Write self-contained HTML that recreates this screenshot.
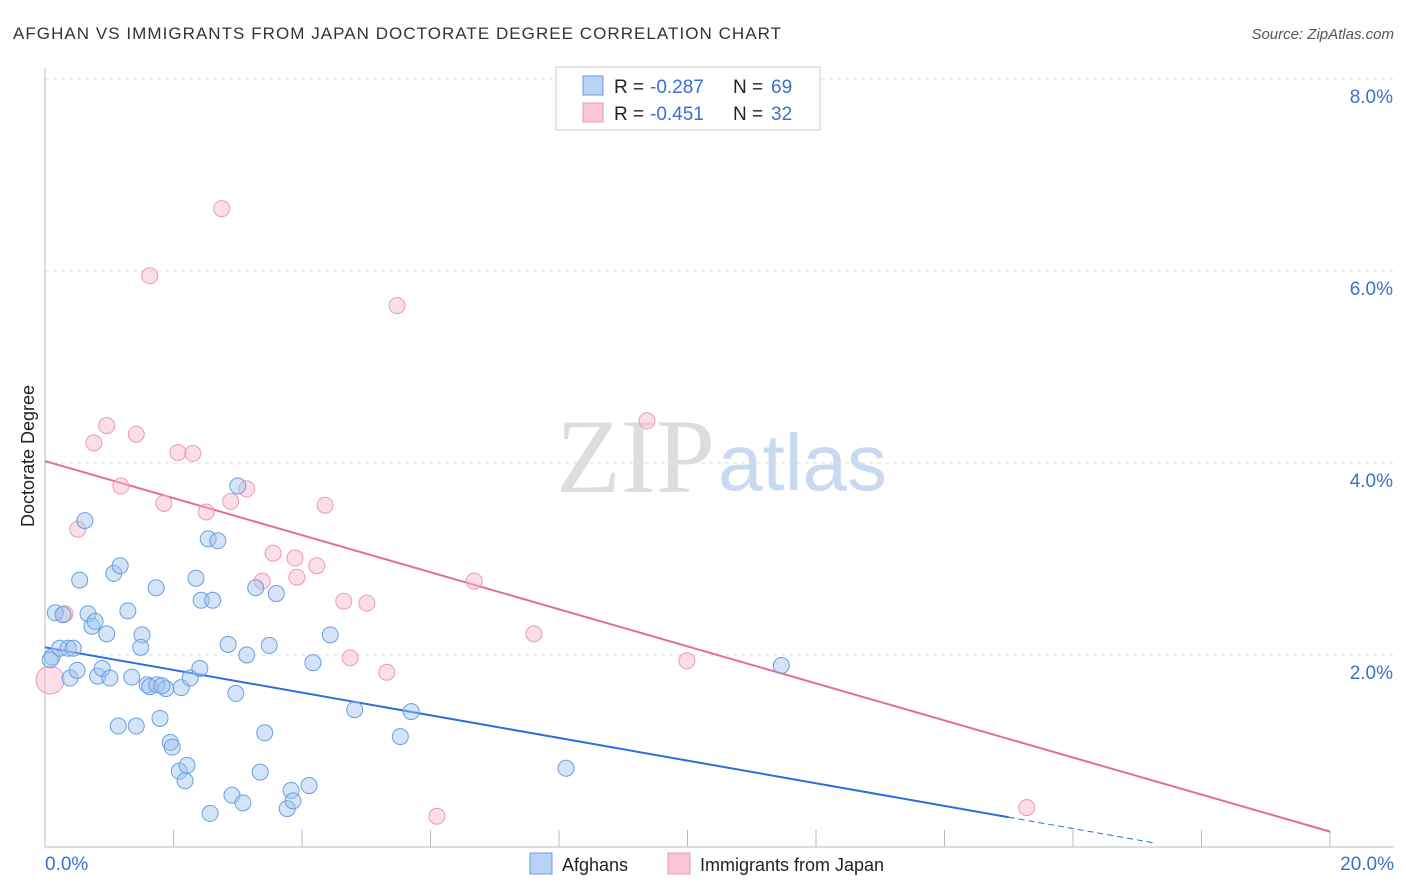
<!DOCTYPE html>
<html><head><meta charset="utf-8"><style>
body{margin:0;background:#fff;font-family:"Liberation Sans",sans-serif}
svg{display:block}
</style></head><body>
<svg id="chart" width="1406" height="892">
<text x="13" y="39" font-size="17" fill="#333" textLength="768" lengthAdjust="spacing">AFGHAN VS IMMIGRANTS FROM JAPAN DOCTORATE DEGREE CORRELATION CHART</text>
<text x="1394" y="39" font-size="15" fill="#555" font-style="italic" text-anchor="end">Source: ZipAtlas.com</text>
<text x="715" y="492" font-size="106" fill="#ddd" text-anchor="end" font-family="Liberation Serif">ZIP</text>
<text x="718" y="490" font-size="80" fill="#c9d9ef">atlas</text>
<text transform="translate(34,456) rotate(-90)" font-size="18" fill="#222" text-anchor="middle">Doctorate Degree</text>
<g id="grid"></g><g id="lines"></g><g id="pts"></g>
<g>
<rect x="556" y="67" width="264" height="63" fill="#fff" stroke="#ccc"/>
<rect x="583" y="76" width="20" height="19" fill="#b8d3f5" stroke="#6a9ee0"/>
<rect x="583" y="103" width="20" height="19" fill="#f9c6d6" stroke="#e899b2"/>
<text x="614" y="93" font-size="19" fill="#222">R =</text>
<text x="650" y="93" font-size="19" fill="#3a70d0">-0.287</text>
<text x="733" y="93" font-size="19" fill="#222">N =</text>
<text x="771" y="93" font-size="19" fill="#3a70d0">69</text>
<text x="614" y="120" font-size="19" fill="#222">R =</text>
<text x="650" y="120" font-size="19" fill="#3a70d0">-0.451</text>
<text x="733" y="120" font-size="19" fill="#222">N =</text>
<text x="771" y="120" font-size="19" fill="#3a70d0">32</text>
</g>
<g>
<rect x="530" y="853" width="22" height="21" fill="#b8d3f5" stroke="#6a9ee0"/>
<text x="562" y="871" font-size="18" fill="#222">Afghans</text>
<rect x="668" y="853" width="22" height="21" fill="#f9c6d6" stroke="#e899b2"/>
<text x="700" y="871" font-size="18" fill="#222">Immigrants from Japan</text>
</g>
</svg>
<script>
const yTicks=[2,4,6,8];
const xTickLabels=["0.0%","20.0%"];
const blueX=[55,52,60,68,73,70,77,80,85,88,92,95,98,102,107,110,114,120,118,128,132,136,142,141,147,150,156,157,160,166,170,172,179,181,185,187,190,196,200,201,208,213,210,218,228,232,236,238,243,247,256,260,265,269,276,287,291,293,309,313,330,355,400,411,566,781,50,63,162].map(p=>+((p-45)/64.25).toFixed(2));
const blueY=[613,657,648,648,648,678,670,580,521,614,626,621,676,668,634,678,573,566,726,611,677,726,635,647,685,687,588,685,718,689,742,747,771,688,781,765,678,578,668,600,539,600,813,541,644,795,693,486,803,655,588,772,733,645,594,809,790,801,786,663,635,710,737,712,768,666,660,615,686].map(p=>+((847-p)/96).toFixed(2));
const pinkX=[50,65,78,94,107,121,136,150,164,178,193,206,222,231,247,262,273,295,297,317,325,344,350,367,387,397,437,474,534,647,687,1027].map(p=>+((p-45)/64.25).toFixed(2));
const pinkY=[680,614,529,443,426,486,434,276,503,452,453,512,209,501,489,581,553,558,577,566,505,601,658,603,672,306,816,581,634,421,661,808].map(p=>+((847-p)/96).toFixed(2));
const blueTrend=[2.08,0.31];
const pinkTrend=[4.02,0.16];
const X=v=>45+v*64.25, Y=v=>847-v*96;
const NS="http://www.w3.org/2000/svg";
function mk(t,a,p){const e=document.createElementNS(NS,t);for(const k in a)e.setAttribute(k,a[k]);p.appendChild(e);return e;}
const g=document.getElementById('grid');
yTicks.forEach(t=>{
 const l=mk('line',{x1:45,x2:1394,y1:Y(t),y2:Y(t),stroke:'#ddd','stroke-dasharray':'4,4'},g);
 
 
 const tx=mk('text',{x:1393,y:Y(t)+24,'font-size':19,fill:'#3a70d0','text-anchor':'end'},g);
 tx.textContent=t.toFixed(1)+'%';
 
 
});
const ax=mk('line',{x1:45,x2:45,y1:68,y2:847,stroke:'#bbb'},g);


const bx=mk('line',{x1:45,x2:1394,y1:847,y2:847,stroke:'#bbb'},g);


for(let i=0;i<=10;i++){const t=mk('line',{x1:X(i*2),x2:X(i*2),y1:830,y2:847,stroke:'#bbb'},g);
 
 }
[[0,'start',45],[20,'end',1394]].forEach((d,i)=>{const t=mk('text',{x:d[2],y:870,'font-size':19,fill:'#3a70d0','text-anchor':d[1]},g);t.textContent=xTickLabels[i];
 
 });
const ln=document.getElementById('lines');
const slopeB=(blueTrend[1]-blueTrend[0])/15;
let l1=mk('line',{x1:X(0),y1:Y(blueTrend[0]),x2:X(15),y2:Y(blueTrend[1]),stroke:'#2a6fdb','stroke-width':2},ln);


let l2=mk('line',{x1:X(15),y1:Y(blueTrend[1]),x2:X(17.3),y2:Y(blueTrend[0]+slopeB*17.3),stroke:'#2a6fdb','stroke-width':1,'stroke-dasharray':'6,4'},ln);


let l3=mk('line',{x1:X(0),y1:Y(pinkTrend[0]),x2:X(20),y2:Y(pinkTrend[1]),stroke:'#e46d96','stroke-width':2},ln);


const pg=document.getElementById('pts');
pinkX.forEach((x,i)=>{const c=mk('circle',{cx:X(x),cy:Y(pinkY[i]),r:i==0?14:8,fill:'rgba(246,182,202,0.45)',stroke:'#ec9ab6','stroke-width':1},pg);
 
 });
blueX.forEach((x,i)=>{const c=mk('circle',{cx:X(x),cy:Y(blueY[i]),r:8,fill:'rgba(160,196,240,0.45)',stroke:'#6a9ee0','stroke-width':1},pg);
 
 });
</script>
</body></html>
